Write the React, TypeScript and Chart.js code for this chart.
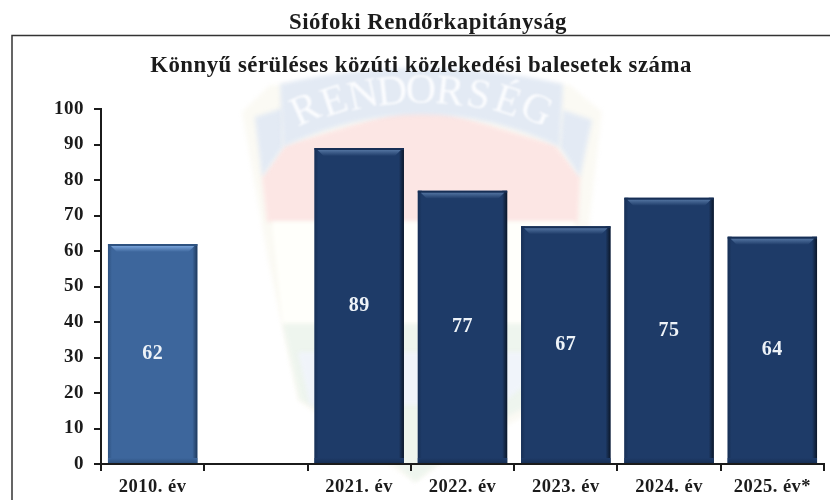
import React, { useEffect, useRef } from "react";
import Chart from "chart.js/auto";

const headerText = "Siófoki Rendőrkapitányság";
const chartTitle = "Könnyű sérüléses közúti közlekedési balesetek száma";
const categories = ["2010. év", "", "2021. év", "2022. év", "2023. év", "2024. év", "2025. év*"];
const accidents: (number | null)[] = [62, null, 89, 77, 67, 75, 64];
const yTicks = [0, 10, 20, 30, 40, 50, 60, 70, 80, 90, 100];
const watermarkText = "RENDŐRSÉG";

const FONT = '"Liberation Serif", "Times New Roman", serif';
const INK = "#1b1b1b";

const backdrop = {
  id: "backdrop",
  beforeDraw(chart: any) {
    const c = chart.ctx;
    c.save();
    c.fillStyle = "#ffffff";
    c.fillRect(0, 0, 830, 500);
    c.filter = "blur(2px)";
    const poly = (pts: number[][], fill: string) => {
      c.beginPath();
      pts.forEach((p, i) => (i ? c.lineTo(p[0], p[1]) : c.moveTo(p[0], p[1])));
      c.closePath();
      c.fillStyle = fill;
      c.fill();
    };
    // pale police crest behind the plot
    poly([[242, 112], [270, 85], [570, 85], [602, 112], [585, 260], [555, 400], [470, 445], [415, 482], [350, 440], [298, 400], [268, 260]], "#fbfaf4");
    poly([[262, 177], [285, 145], [421, 105], [555, 145], [580, 177], [578, 222], [267, 222]], "#fce6e4");
    poly([[272, 222], [575, 222], [560, 324], [283, 324]], "#fffffb");
    poly([[283, 324], [545, 324], [530, 405], [480, 430], [415, 482], [360, 430], [300, 400]], "#eef5ee");
    poly([[298, 352], [530, 352], [525, 385], [500, 405], [310, 405]], "#f0f4fa");
    poly([[255, 117], [283, 108], [283, 147], [262, 177]], "#e3eaf4");
    poly([[563, 110], [592, 120], [580, 177], [560, 147]], "#e3eaf4");
    c.beginPath();
    c.moveTo(280, 84);
    c.quadraticCurveTo(421, 52, 563, 84);
    c.lineTo(560, 147);
    c.quadraticCurveTo(421, 82, 283, 147);
    c.closePath();
    c.fillStyle = "#e3eaf4";
    c.fill();
    c.filter = "blur(0.8px)";
    c.fillStyle = "#fbfcfe";
    c.font = `42px ${FONT}`;
    c.textAlign = "center";
    c.textBaseline = "middle";
    const chars = Array.from(watermarkText);
    chars.forEach((ch, i) => {
      const t = (i - (chars.length - 1) / 2) / (chars.length - 1);
      c.save();
      c.translate(421 + t * 230, 92 + t * t * 76);
      c.rotate(t * 0.85);
      c.fillText(ch, 0, 0);
      c.restore();
    });
    c.filter = "none";
    // frame
    c.strokeStyle = "#333333";
    c.lineWidth = 1.5;
    c.beginPath();
    c.moveTo(12, 500);
    c.lineTo(12, 35.5);
    c.lineTo(830, 35.5);
    c.stroke();
    c.restore();
    c.letterSpacing = "0.5px";
  },
};

const bevel = {
  id: "bevel",
  afterDatasetsDraw(chart: any) {
    const c = chart.ctx;
    const meta = chart.getDatasetMeta(0);
    meta.data.forEach((bar: any, i: number) => {
      const v = accidents[i];
      if (v === null) return;
      const l = bar.x - bar.width / 2;
      const r = bar.x + bar.width / 2;
      const t = bar.y;
      const b = bar.base;
      const first = i === 0;
      const main = first ? "#3d669c" : "#1e3b68";
      const hi = first ? "#78a3da" : "#51729f";
      const edge = first ? "#1f3a5c" : "#0b1729";
      const soft = first ? "#2e5280" : "#172f55";
      const grad = (x0: number, y0: number, x1: number, y1: number, a: string, z: string) => {
        const g = c.createLinearGradient(x0, y0, x1, y1);
        g.addColorStop(0, a);
        g.addColorStop(1, z);
        return g;
      };
      const tr = (pts: number[][], fill: any) => {
        c.beginPath();
        pts.forEach((p, k) => (k ? c.lineTo(p[0], p[1]) : c.moveTo(p[0], p[1])));
        c.closePath();
        c.fillStyle = fill;
        c.fill();
      };
      tr([[r - 5, t], [r, t], [r, b], [r - 5, b]], grad(r - 5, 0, r, 0, main, edge));
      tr([[l, t], [l + 4, t], [l + 4, b], [l, b]], grad(l, 0, l + 4, 0, soft, main));
      tr([[l, b - 5], [r, b - 5], [r, b], [l, b]], grad(0, b - 5, 0, b, main, soft));
      tr([[l, t], [r, t], [r, t + 2], [l, t + 2]], soft);
      tr([[l + 3, t + 2], [r - 3, t + 2], [r - 9, t + 8], [l + 9, t + 8]], grad(0, t + 2, 0, t + 8, hi, main));
    });
    c.save();
    c.font = `bold 20px ${FONT}`;
    c.fillStyle = "#eef3f8";
    c.textAlign = "center";
    c.textBaseline = "middle";
    meta.data.forEach((bar: any, i: number) => {
      const v = accidents[i];
      if (v === null) return;
      c.fillText(String(v), bar.x, (bar.y + bar.base) / 2);
    });
    c.restore();
  },
};

const titleShift = {
  id: "titleShift",
  afterLayout(chart: any) {
    chart.boxes.forEach((box: any) => {
      const text = box.options && box.options.text;
      const dx = text === headerText ? 16 : text === chartTitle ? 9 : 0;
      if (dx) {
        box.left += dx;
        box.right += dx;
      }
    });
  },
};

export default function App() {
  const ref = useRef<HTMLCanvasElement | null>(null);
  useEffect(() => {
    const chart = new Chart(ref.current as HTMLCanvasElement, {
      type: "bar",
      data: {
        labels: categories,
        datasets: [
          {
            data: accidents,
            backgroundColor: (ctx: any) => (ctx.dataIndex === 0 ? "#3d669c" : "#1e3b68"),
            barPercentage: 0.865,
            categoryPercentage: 1,
          },
        ],
      },
      options: {
        responsive: false,
        animation: false,
        layout: { padding: { left: 0, right: 6, top: 0, bottom: 0 } },
        plugins: {
          legend: { display: false },
          tooltip: { enabled: false },
          title: {
            display: true,
            text: headerText,
            color: INK,
            font: { family: FONT, size: 22.8, weight: "bold", lineHeight: 1.2 },
            padding: { top: 9, bottom: 0 },
          },
          subtitle: {
            display: true,
            text: chartTitle,
            color: INK,
            font: { family: FONT, size: 22.8, weight: "bold", lineHeight: 1.2 },
            padding: { top: 16, bottom: 29.3 },
          },
        },
        scales: {
          x: {
            afterFit(scale: any) {
              scale.height = 36;
            },
            grid: { drawOnChartArea: false, offset: true, color: INK, lineWidth: 2, tickLength: 7 },
            border: { color: INK, width: 2 },
            ticks: {
              color: INK,
              font: { family: FONT, size: 18.5, weight: "bold" },
              padding: 5,
              maxRotation: 0,
              autoSkip: false,
            },
          },
          y: {
            min: 0,
            max: 100,
            afterFit(scale: any) {
              scale.width = 101;
            },
            afterBuildTicks(scale: any) {
              scale.ticks = yTicks.map((value) => ({ value }));
            },
            grid: { drawOnChartArea: false, color: INK, lineWidth: 2, tickLength: 7 },
            border: { color: INK, width: 2 },
            ticks: {
              color: INK,
              font: { family: FONT, size: 19, weight: "bold" },
              padding: 10,
            },
          },
        },
      },
      plugins: [backdrop, bevel, titleShift],
    } as any);
    return () => chart.destroy();
  }, []);
  return (
    <div style={{ position: "absolute", left: 0, top: 0, width: 830, height: 500, background: "#fff" }}>
      <canvas ref={ref} width={830} height={500} style={{ display: "block", filter: "blur(0.45px)" }} />
    </div>
  );
}
